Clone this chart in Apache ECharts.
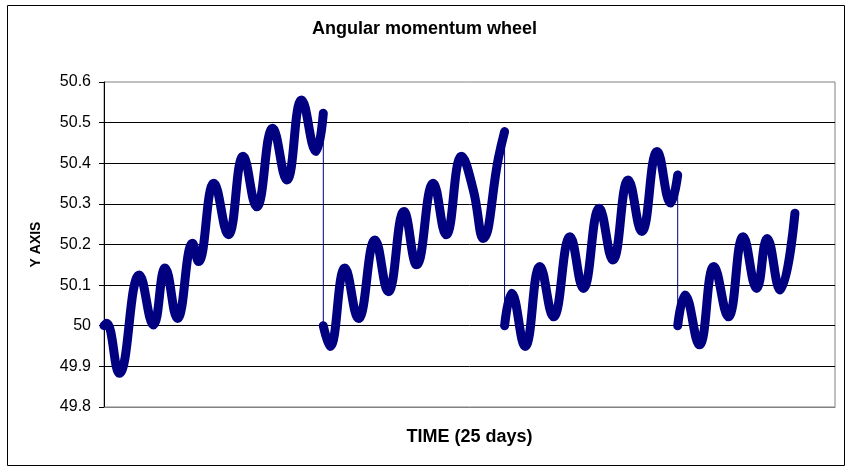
<!DOCTYPE html>
<html style="height: 100%">
<head>
    <meta charset="utf-8">
</head>
<body style="height: 100%; margin: 0; background: #fff">
    <div id="container" style="width: 849px; height: 468px"></div>
    <script type="text/javascript" src="https://cdn.jsdelivr.net/npm/echarts@6/dist/echarts.min.js"></script>
    <script type="text/javascript">
        // [time in days, angular momentum], one array per run between resets
        var seg1 = [[0, 50.00], [0.09, 50.006], [0.52, 49.883], [1.21, 50.125], [1.69, 50.002], [2.09, 50.142],
            [2.51, 50.018], [3.03, 50.203], [3.23, 50.158], [3.76, 50.351], [4.25, 50.224], [4.76, 50.417],
            [5.22, 50.293], [5.77, 50.486], [6.25, 50.359], [6.76, 50.556], [7.25, 50.429], [7.50, 50.523]];
        var seg2 = [[7.50, 50.00], [7.73, 49.949], [8.24, 50.142], [8.70, 50.018], [9.27, 50.211], [9.72, 50.084],
            [10.26, 50.281], [10.69, 50.150], [11.26, 50.351], [11.70, 50.224], [12.23, 50.417], [12.63, 50.334],
            [12.97, 50.215], [13.49, 50.413], [13.70, 50.478]];
        var seg3 = [[13.70, 50.00], [13.94, 50.080], [14.40, 49.949], [14.91, 50.146], [15.37, 50.022], [15.94, 50.219],
            [16.39, 50.092], [16.94, 50.289], [17.40, 50.162], [17.93, 50.359], [18.39, 50.232], [18.92, 50.429],
            [19.38, 50.302], [19.62, 50.371]];
        var seg4 = [[19.62, 50.00], [19.87, 50.076], [20.36, 49.953], [20.86, 50.146], [21.35, 50.022], [21.86, 50.219],
            [22.32, 50.092], [22.68, 50.215], [23.12, 50.088], [23.63, 50.277]];
        var segments = [seg1, seg2, seg3, seg4];

        var yMin = 49.8, yMax = 50.6, yStep = 0.1;
        var navy = '#000080';
        var font = '"Liberation Sans", Arial, sans-serif';

        var series = [];
        segments.forEach(function (seg, i) {
            series.push({
                type: 'line',
                data: seg,
                smooth: 0.45,
                symbol: 'none',
                lineStyle: { color: navy, width: 9, cap: 'round', join: 'round' },
                z: 3
            });
            // thin drop line to the start of the next run
            if (i < segments.length - 1) {
                series.push({
                    type: 'line',
                    data: [seg[seg.length - 1], segments[i + 1][0]],
                    symbol: 'none',
                    lineStyle: { color: navy, width: 1 },
                    z: 2
                });
            }
        });

        var myChart = echarts.init(document.getElementById('container'));
        var option = {
            backgroundColor: '#fff',
            animation: false,
            title: {
                text: 'Angular momentum wheel',
                left: 'center',
                top: 15,
                textStyle: { fontFamily: font, fontSize: 18, fontWeight: 'bold', color: '#000' }
            },
            graphic: [{
                type: 'rect',
                shape: { x: 7.5, y: 5.5, width: 837, height: 460 },
                style: { fill: null, stroke: '#000', lineWidth: 1 },
                silent: true
            }],
            grid: {
                left: 104, right: 14, top: 82, bottom: 61,
                show: true, borderColor: '#808080', borderWidth: 1, backgroundColor: '#fff'
            },
            xAxis: {
                type: 'value',
                min: 0, max: 25,
                name: 'TIME (25 days)',
                nameLocation: 'middle',
                nameGap: 21,
                nameTextStyle: { fontFamily: font, fontSize: 18, fontWeight: 'bold', color: '#000' },
                axisLine: { show: true, lineStyle: { color: '#808080' } },
                axisTick: { show: false },
                axisLabel: { show: false },
                splitLine: { show: false }
            },
            yAxis: {
                type: 'value',
                min: yMin, max: yMax, interval: yStep,
                name: 'Y AXIS',
                nameLocation: 'middle',
                nameGap: 61,
                nameRotate: 90,
                nameTextStyle: { fontFamily: font, fontSize: 14, fontWeight: 'bold', color: '#000' },
                axisLine: { show: true, lineStyle: { color: '#000' } },
                axisTick: { show: true, inside: false, length: 5, lineStyle: { color: '#000' } },
                axisLabel: { fontFamily: font, fontSize: 16, color: '#000', margin: 13 },
                splitLine: { show: true, showMinLine: false, showMaxLine: false, lineStyle: { color: '#000', width: 1 } }
            },
            series: series
        };
        myChart.setOption(option);
    </script>
</body>
</html>
